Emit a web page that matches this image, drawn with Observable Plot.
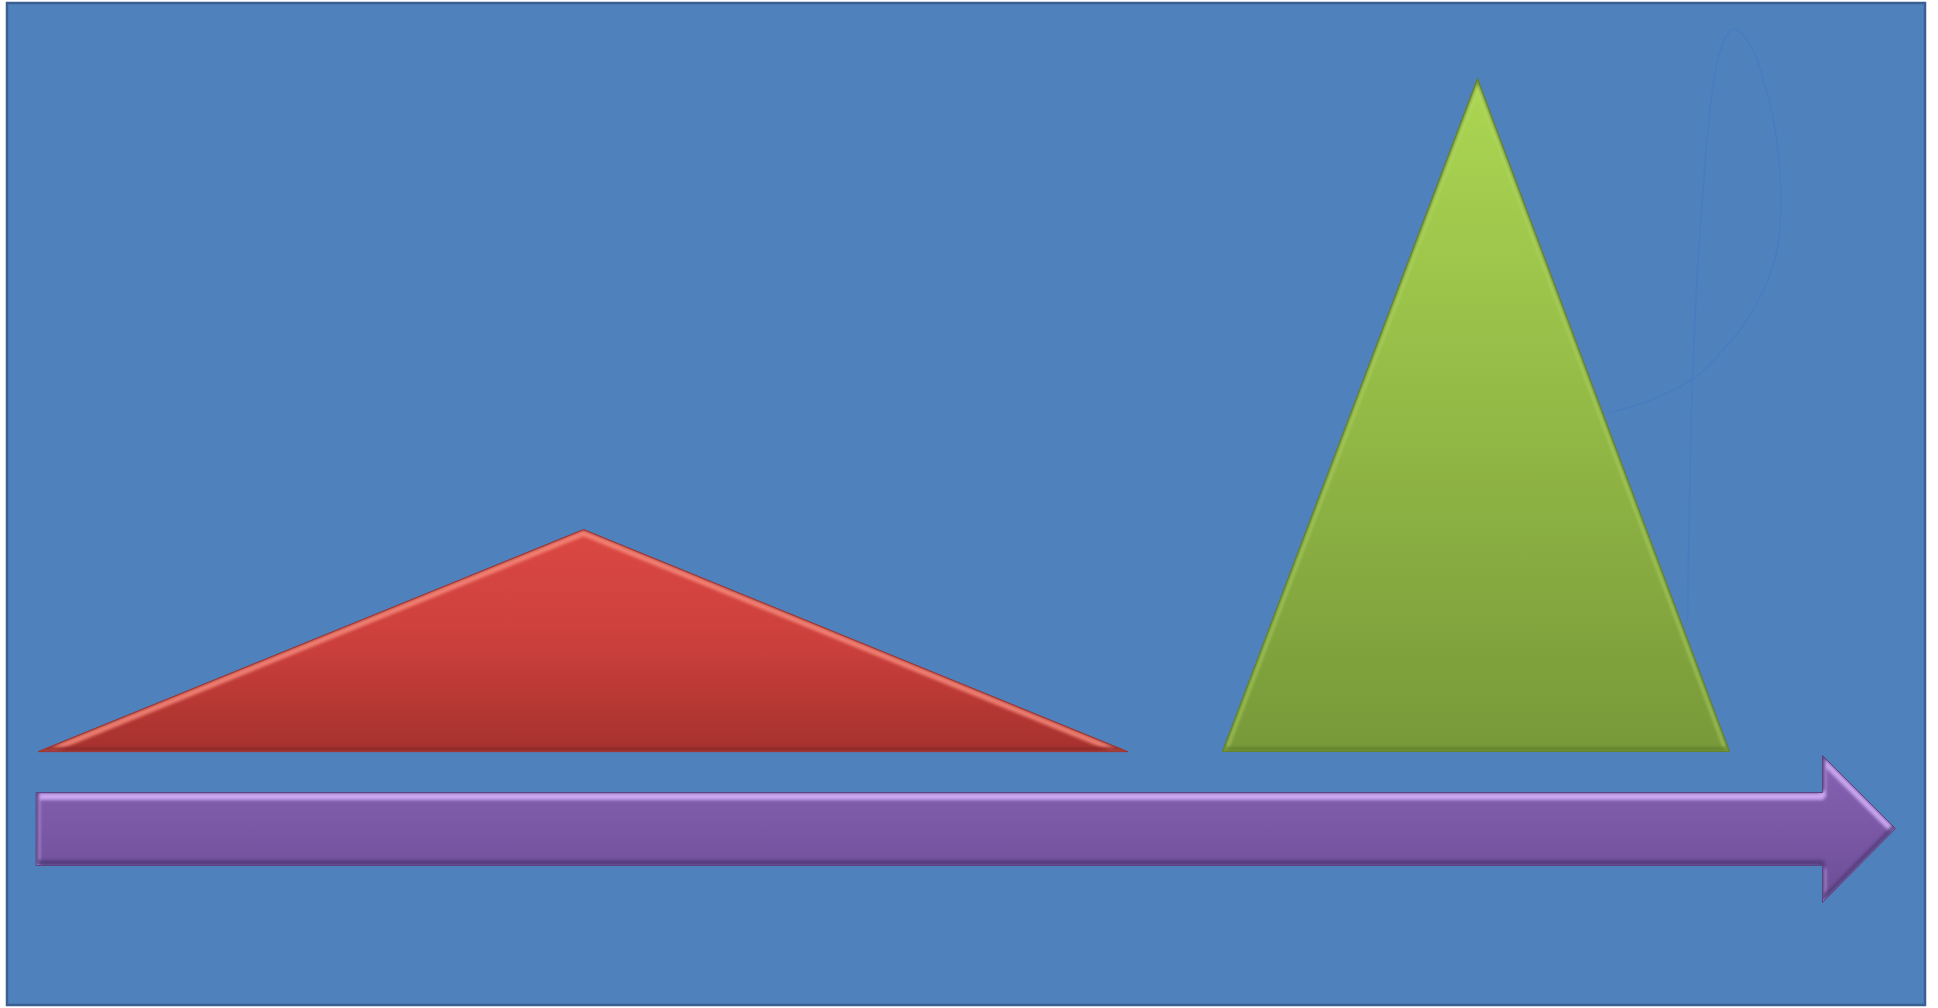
<!DOCTYPE html>
<html>
<head>
<meta charset="utf-8">
<script src="https://cdn.jsdelivr.net/npm/d3@7"></script>
<script src="https://cdn.jsdelivr.net/npm/@observablehq/plot@0.6"></script>
<style>
  html, body { margin: 0; padding: 0; background: #ffffff; overflow: hidden; }
  #chart svg { display: block; }
</style>
</head>
<body>
<div id="chart"></div>
<script>
// ---- data (diagram coordinates, y grows downward) ----
const frame = [{x1: 7, y1: 3, x2: 1925, y2: 1005}];
const redTriangle = [{x: 38, y: 751}, {x: 583, y: 529}, {x: 1127, y: 751}];
const greenTriangle = [{x: 1222, y: 751}, {x: 1477, y: 78}, {x: 1729, y: 751}];
const arrowShape = [
  {x: 36, y: 792}, {x: 1822, y: 792}, {x: 1822, y: 755}, {x: 1895, y: 828},
  {x: 1822, y: 902}, {x: 1822, y: 865}, {x: 36, y: 865}
];
const sketchCurve = [
  {x: 1687, y: 620}, {x: 1690, y: 450}, {x: 1692, y: 383}, {x: 1697, y: 267},
  {x: 1702, y: 200}, {x: 1707, y: 133}, {x: 1713, y: 83}, {x: 1720, y: 50},
  {x: 1733, y: 28}, {x: 1750, y: 45}, {x: 1763, y: 80}, {x: 1773, y: 120},
  {x: 1779, y: 167}, {x: 1780, y: 215}, {x: 1776, y: 252}, {x: 1765, y: 285},
  {x: 1746, y: 320}, {x: 1722, y: 350}, {x: 1693, y: 378}, {x: 1652, y: 399},
  {x: 1610, y: 412}
];

const W = 1938, H = 1008;

function shape(data, opts) {
  return Plot.line(data, {x: "x", y: "y", curve: "linear-closed", strokeLinejoin: "miter", ...opts});
}

const svg = Plot.plot({
  width: W,
  height: H,
  margin: 0,
  x: {domain: [0, W], range: [0, W], axis: null},
  y: {domain: [0, H], range: [0, H], axis: null},
  style: {background: "#ffffff"},
  marks: [
    Plot.rect(frame, {x1: "x1", x2: "x2", y1: "y1", y2: "y2", fill: "#4f81bd", stroke: "#3a6093", strokeWidth: 2.5}),
    Plot.line(sketchCurve, {x: "x", y: "y", curve: "catmull-rom", stroke: "#3f77c4", strokeOpacity: 0.4, strokeWidth: 1.6}),

    // red triangle
    shape(redTriangle, {fill: "url(#gRed)", stroke: "none"}),
    shape(redTriangle, {fill: "none", stroke: "#f7897b", strokeOpacity: 0.85, strokeWidth: 7, dy: 3}),
    shape(redTriangle, {fill: "none", stroke: "#8a2824", strokeOpacity: 0.8, strokeWidth: 5, dy: -2}),
    shape(redTriangle, {fill: "none", stroke: "#9a3531", strokeWidth: 1}),

    // green triangle
    shape(greenTriangle, {fill: "url(#gGreen)", stroke: "none"}),
    shape(greenTriangle, {fill: "none", stroke: "#bde36f", strokeOpacity: 0.55, strokeWidth: 7, dy: 3}),
    shape(greenTriangle, {fill: "none", stroke: "#5d7b2b", strokeOpacity: 0.7, strokeWidth: 5, dy: -2}),
    shape(greenTriangle, {fill: "none", stroke: "#64822f", strokeWidth: 1.2}),

    // purple arrow
    shape(arrowShape, {fill: "url(#gPurple)", stroke: "none"}),
    shape(arrowShape, {fill: "none", stroke: "#d0aef6", strokeOpacity: 0.9, strokeWidth: 7, dy: 4}),
    shape(arrowShape, {fill: "none", stroke: "#4e3975", strokeOpacity: 0.8, strokeWidth: 5, dy: -3}),
    shape(arrowShape, {fill: "none", stroke: "#5b4384", strokeWidth: 1})
  ]
});
document.getElementById("chart").appendChild(svg);

// gradients and soft-edge filter
const defs = `
<defs>
  <linearGradient id="gRed" x1="0" y1="0" x2="0" y2="1">
    <stop offset="0" stop-color="#db4843"/>
    <stop offset="0.5" stop-color="#cc403c"/>
    <stop offset="1" stop-color="#a6312e"/>
  </linearGradient>
  <linearGradient id="gGreen" x1="0" y1="0" x2="0" y2="1">
    <stop offset="0" stop-color="#abd652"/>
    <stop offset="0.5" stop-color="#93b946"/>
    <stop offset="1" stop-color="#789939"/>
  </linearGradient>
  <linearGradient id="gPurple" x1="0" y1="0" x2="0" y2="1">
    <stop offset="0" stop-color="#8763b2"/>
    <stop offset="0.5" stop-color="#7a58a6"/>
    <stop offset="1" stop-color="#6c4d95"/>
  </linearGradient>
  <filter id="soft" x="-5%" y="-20%" width="110%" height="140%">
    <feGaussianBlur stdDeviation="1.6"/>
  </filter>
</defs>`;
svg.insertAdjacentHTML("afterbegin", defs);

// clip the bevel strokes to the inside of each shape
try {
  const defsEl = svg.querySelector("defs");
  const NS = "http://www.w3.org/2000/svg";
  const groups = Array.from(svg.children).filter(e => e.tagName.toLowerCase() === "g");
  [["red", 2], ["green", 6], ["arrow", 10]].forEach(([name, i]) => {
    const fillPath = groups[i].querySelector("path");
    const cp = document.createElementNS(NS, "clipPath");
    cp.setAttribute("id", `clip-${name}`);
    const p = document.createElementNS(NS, "path");
    p.setAttribute("d", fillPath.getAttribute("d"));
    const t = groups[i].getAttribute("transform");
    if (t) p.setAttribute("transform", t);
    cp.appendChild(p);
    defsEl.appendChild(cp);
    for (const g of [groups[i + 1], groups[i + 2]]) {
      const wrap = document.createElementNS(NS, "g");
      wrap.setAttribute("clip-path", `url(#clip-${name})`);
      g.replaceWith(wrap);
      wrap.appendChild(g);
      g.setAttribute("filter", "url(#soft)");
    }
  });
} catch (e) {
  console.error(e);
}
</script>
</body>
</html>
